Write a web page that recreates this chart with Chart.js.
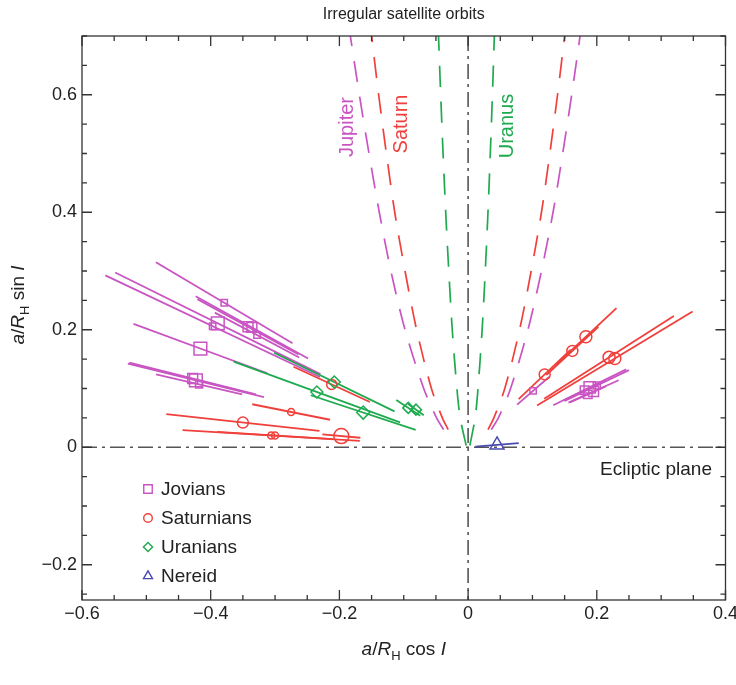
<!DOCTYPE html>
<html>
<head>
<meta charset="utf-8">
<script src="https://cdn.jsdelivr.net/npm/chart.js@4.4.1/dist/chart.umd.min.js"></script>
<style>
  html, body { margin: 0; padding: 0; background: #fff; }
  #wrap { width: 736px; height: 685px; }
</style>
</head>
<body>
<div id="wrap"><canvas id="orbits" width="736" height="685"></canvas></div>
<script>
// Satellites: marker at (a/RH cos I, a/RH sin I), line runs from a(1-e) to a(1+e)
const jovX = [-0.379, -0.389, -0.397, -0.342, -0.336, -0.328, -0.416, -0.423, -0.418, -0.428, 0.101, 0.181, 0.189, 0.195, 0.200, 0.186];
const jovY = [0.246, 0.211, 0.206, 0.205, 0.204, 0.191, 0.168, 0.114, 0.107, 0.117, 0.096, 0.097, 0.102, 0.095, 0.105, 0.090];
const jovE = [0.28, 0.41, 0.42, 0.23, 0.26, 0.20, 0.25, 0.25, 0.16, 0.23, 0.245, 0.18, 0.30, 0.20, 0.25, 0.15];
const jovR = [4.5, 9, 4.5, 7, 7, 4.5, 9, 9, 5, 7, 4.5, 6, 8, 7, 5, 6];

const satX = [-0.275, -0.350, -0.306, -0.300, -0.197, -0.212, 0.119, 0.162, 0.183, 0.219, 0.228];
const satY = [0.060, 0.042, 0.020, 0.020, 0.019, 0.107, 0.124, 0.164, 0.188, 0.153, 0.151];
const satE = [0.22, 0.34, 0.45, 0.30, 0.15, 0.28, 0.34, 0.25, 0.26, 0.46, 0.53];
const satR = [3.5, 5.5, 3.5, 3.5, 7.5, 5, 5.5, 5.5, 6, 6, 6];

const uraX = [-0.208, -0.235, -0.163, -0.093, -0.081];
const uraY = [0.111, 0.094, 0.059, 0.067, 0.064];
const uraE = [0.45, 0.55, 0.50, 0.20, 0.15];
const uraR = [6, 6, 6.5, 5.5, 5.5];

const nerX = [0.045];
const nerY = [0.004];
const nerE = [0.75];
const nerR = [8];

// Stability boundaries (dashed)
const hillY = [0.03, 0.05, 0.1, 0.2, 0.3, 0.4, 0.5, 0.6, 0.7];
const jupLeftX = [-0.038, -0.049, -0.069, -0.098, -0.120, -0.138, -0.154, -0.169, -0.183];
const jupRightX = [0.036, 0.047, 0.066, 0.093, 0.114, 0.132, 0.147, 0.161, 0.174];
const satLeftX = [-0.031, -0.040, -0.057, -0.080, -0.098, -0.114, -0.127, -0.139, -0.150];
const satRightX = [0.031, 0.040, 0.057, 0.080, 0.098, 0.114, 0.127, 0.139, 0.150];
const uraHillY = [0.003, 0.05, 0.1, 0.2, 0.3, 0.4, 0.5, 0.6, 0.7];
const uraLeftX = [-0.003, -0.0123, -0.0174, -0.0246, -0.030, -0.0348, -0.0389, -0.0426, -0.046];
const uraRightX = [0.0027, 0.0109, 0.0154, 0.0218, 0.0267, 0.0309, 0.0345, 0.0378, 0.0408];

const xTicks = [-0.6, -0.4, -0.2, 0, 0.2, 0.4];
const yTicks = [-0.2, 0, 0.2, 0.4, 0.6];

const legendNames = ['Jovians', 'Saturnians', 'Uranians', 'Nereid'];

const JUP = '#c955c3';
const SAT = '#f0403c';
const URA = '#1faa50';
const NER = '#4a4ab0';
const FONT = '"Liberation Sans", Arial, Helvetica, sans-serif';

function markers(xs, ys, rs, color, style) {
  return {
    data: xs.map((x, i) => ({ x: x, y: ys[i] })),
    showLine: false,
    pointStyle: style,
    pointRadius: rs,
    pointBorderColor: color,
    pointBackgroundColor: 'rgba(0,0,0,0)',
    pointBorderWidth: 1.5
  };
}

function segments(xs, ys, es, color) {
  return xs.map((x, i) => ({
    data: [{ x: x * (1 + es[i]), y: ys[i] * (1 + es[i]) }, { x: x * (1 - es[i]), y: ys[i] * (1 - es[i]) }],
    showLine: true,
    borderColor: color,
    borderWidth: 1.8,
    pointRadius: 0
  }));
}

function curve(xs, ys, color) {
  return {
    data: xs.map((x, i) => ({ x: x, y: ys[i] })),
    showLine: true,
    borderColor: color,
    borderWidth: 1.7,
    borderDash: [21, 15],
    tension: 0.3,
    pointRadius: 0
  };
}

// first dataset is drawn on top
const datasets = [
  markers(nerX, nerY, nerR, NER, 'triangle'),
  markers(uraX, uraY, uraR, URA, 'rectRot'),
  markers(satX, satY, satR, SAT, 'circle'),
  markers(jovX, jovY, jovR, JUP, 'rect'),
  ...segments(nerX, nerY, nerE, NER),
  ...segments(uraX, uraY, uraE, URA),
  ...segments(satX, satY, satE, SAT),
  ...segments(jovX, jovY, jovE, JUP),
  curve(jupLeftX, hillY, JUP),
  curve(jupRightX, hillY, JUP),
  curve(satLeftX, hillY, SAT),
  curve(satRightX, hillY, SAT),
  curve(uraLeftX, uraHillY, URA),
  curve(uraRightX, uraHillY, URA)
];

function fmt(v) {
  if (Math.abs(v) < 1e-9) return '0';
  return (v < 0 ? '\u2212' : '') + Math.abs(v).toFixed(1);
}

// text with italic / subscript pieces, centred on (cx, cy)
function richText(ctx, parts, cx, cy, size) {
  const fontFor = p => (p[1] === 'i' ? 'italic ' : '') + (p[1] === 's' ? Math.round(size * 0.7) : size) + 'px ' + FONT;
  let w = 0;
  parts.forEach(p => { ctx.font = fontFor(p); w += ctx.measureText(p[0]).width; });
  let x = cx - w / 2;
  ctx.textAlign = 'left';
  ctx.textBaseline = 'middle';
  parts.forEach(p => {
    ctx.font = fontFor(p);
    ctx.fillText(p[0], x, cy + (p[1] === 's' ? size * 0.32 : 0));
    x += ctx.measureText(p[0]).width;
  });
}

const decorations = {
  id: 'decorations',
  beforeDatasetsDraw(chart) {
    const { ctx, chartArea: a, scales: { x, y } } = chart;
    const x0 = x.getPixelForValue(0), y0 = y.getPixelForValue(0);
    ctx.save();
    ctx.strokeStyle = '#555';
    ctx.lineWidth = 1.6;
    ctx.setLineDash([15, 5, 3, 5]);
    ctx.beginPath();
    ctx.moveTo(a.left, y0); ctx.lineTo(a.right, y0);
    ctx.moveTo(x0, a.top); ctx.lineTo(x0, a.bottom);
    ctx.stroke();
    ctx.restore();
  },
  afterDraw(chart) {
    const { ctx, chartArea: a, scales: { x, y } } = chart;
    ctx.save();
    // frame
    ctx.strokeStyle = '#333';
    ctx.lineWidth = 1.3;
    ctx.strokeRect(a.left, a.top, a.right - a.left, a.bottom - a.top);
    // inward ticks, minor every 0.05
    ctx.beginPath();
    for (let i = -12; i <= 8; i++) {
      const px = x.getPixelForValue(i * 0.05);
      const len = i % 4 === 0 ? 10 : 5;
      ctx.moveTo(px, a.bottom); ctx.lineTo(px, a.bottom - len);
      ctx.moveTo(px, a.top); ctx.lineTo(px, a.top + len);
    }
    for (let i = -5; i <= 14; i++) {
      const py = y.getPixelForValue(i * 0.05);
      const len = i % 4 === 0 ? 10 : 5;
      ctx.moveTo(a.left, py); ctx.lineTo(a.left + len, py);
      ctx.moveTo(a.right, py); ctx.lineTo(a.right - len, py);
    }
    ctx.stroke();

    // title
    ctx.fillStyle = '#222';
    ctx.font = '16px ' + FONT;
    ctx.textAlign = 'center';
    ctx.textBaseline = 'middle';
    ctx.fillText('Irregular satellite orbits', (a.left + a.right) / 2, 15);

    // axis titles
    richText(ctx, [['a', 'i'], ['/', ''], ['R', 'i'], ['H', 's'], [' cos ', ''], ['I', 'i']], (a.left + a.right) / 2, 650, 19);
    ctx.save();
    ctx.translate(19, 305);
    ctx.rotate(-Math.PI / 2);
    richText(ctx, [['a', 'i'], ['/', ''], ['R', 'i'], ['H', 's'], [' sin ', ''], ['I', 'i']], 0, 0, 19);
    ctx.restore();

    // curve names
    const names = [['Jupiter', JUP, 347, 127], ['Saturn', SAT, 401, 124], ['Uranus', URA, 507, 126]];
    ctx.font = '20px ' + FONT;
    names.forEach(n => {
      ctx.save();
      ctx.translate(n[2], n[3]);
      ctx.rotate(-Math.PI / 2);
      ctx.fillStyle = n[1];
      ctx.textAlign = 'center';
      ctx.textBaseline = 'middle';
      ctx.fillText(n[0], 0, 0);
      ctx.restore();
    });

    ctx.fillStyle = '#222';
    ctx.font = '19px ' + FONT;
    ctx.textAlign = 'right';
    ctx.textBaseline = 'middle';
    ctx.fillText('Ecliptic plane', 712, 470);

    // legend
    const colors = [JUP, SAT, URA, NER];
    const styles = ['rect', 'circle', 'rectRot', 'triangle'];
    const radii = [6, 4.3, 4.6, 5.2];
    legendNames.forEach((name, i) => {
      const ly = 489 + i * 29;
      ctx.fillStyle = 'rgba(0,0,0,0)';
      ctx.strokeStyle = colors[i];
      ctx.lineWidth = 1.4;
      Chart.helpers.drawPoint(ctx, { pointStyle: styles[i], radius: radii[i], borderWidth: 1.4, rotation: 0 }, 148, ly);
      ctx.fillStyle = '#222';
      ctx.font = '19px ' + FONT;
      ctx.textAlign = 'left';
      ctx.textBaseline = 'middle';
      ctx.fillText(name, 161, ly + 1);
    });
    ctx.restore();
  }
};

new Chart(document.getElementById('orbits'), {
  type: 'scatter',
  data: { datasets: datasets },
  options: {
    responsive: false,
    animation: false,
    events: [],
    layout: { padding: { top: 36, right: 9, left: 0, bottom: 0 } },
    plugins: { legend: { display: false }, tooltip: { enabled: false } },
    scales: {
      x: {
        type: 'linear', min: -0.6, max: 0.4,
        grid: { display: false, drawTicks: false },
        border: { display: false },
        afterBuildTicks: s => { s.ticks = xTicks.map(v => ({ value: v })); },
        afterFit: s => { s.height = 85; s.paddingLeft = 0; s.paddingRight = 0; },
        ticks: { callback: fmt, color: '#222', font: { family: FONT, size: 18 }, padding: 3, maxRotation: 0, autoSkip: false }
      },
      y: {
        type: 'linear', min: -0.26, max: 0.7,
        grid: { display: false, drawTicks: false },
        border: { display: false },
        afterBuildTicks: s => { s.ticks = yTicks.map(v => ({ value: v })); },
        afterFit: s => { s.width = 82; s.paddingTop = 0; s.paddingBottom = 0; },
        ticks: { callback: fmt, color: '#222', font: { family: FONT, size: 18 }, padding: 5, autoSkip: false }
      }
    }
  },
  plugins: [decorations]
});
</script>
</body>
</html>
